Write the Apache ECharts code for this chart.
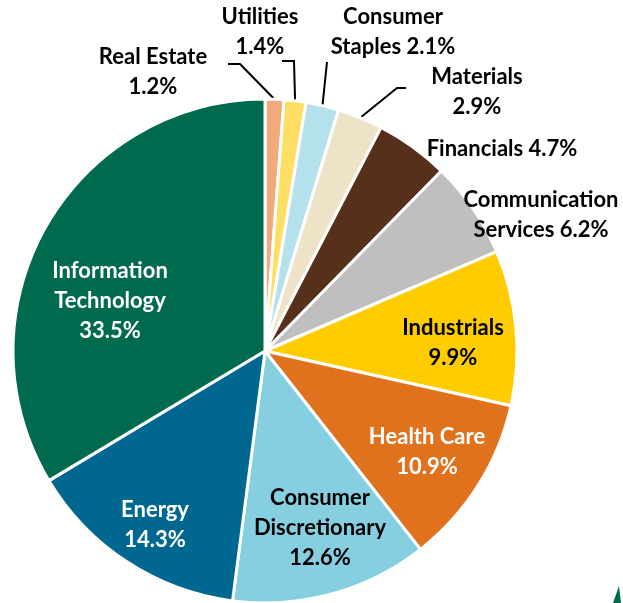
<!DOCTYPE html>
<html>
<head>
<meta charset="utf-8">
<script src="https://cdn.jsdelivr.net/npm/echarts@6/dist/echarts.min.js"></script>
<style>
html,body{margin:0;padding:0;background:#fff;}
#chart{width:623px;height:603px;}
</style>
</head>
<body>
<div id="chart"></div>
<script>
// Sectors, clockwise from 12 o'clock
const sectors = ['Real Estate','Utilities','Consumer Staples','Materials','Financials','Communication Services','Industrials','Health Care','Consumer Discretionary','Energy','Information Technology'];
const weights = [1.2, 1.4, 2.1, 2.9, 4.7, 6.2, 9.9, 10.9, 12.6, 14.3, 33.5];
const labelTexts = ['Real Estate\n1.2%','Utilities\n1.4%','Consumer\nStaples 2.1%','Materials\n2.9%','Financials 4.7%','Communication\nServices 6.2%','Industrials\n9.9%','Health Care\n10.9%','Consumer\nDiscretionary\n12.6%','Energy\n14.3%','Information\nTechnology\n33.5%'];
const colors = ['#F2A97B','#FFDF63','#B4E1EC','#EEE3C6','#56301A','#BFBFBF','#FFCC00','#E0721E','#86CFE1','#006890','#006A4E'];
const labelColors = ['#000','#000','#000','#000','#000','#000','#000','#fff','#000','#fff','#fff'];

// Label placement (text centres) and leader-line bends
const labelPos = [[153,72],[260,32],[393,32],[477,92],[502,149],[541,215],[453,343],[427,452],[320,528],[155,525],[110,301]];
const leaderBends = {
  0: [[228,64],[240,64]],
  1: [[282,61],[294,61]],
  2: [[327,62]],
  3: [[406,88],[397,88]]
};

const chart = echarts.init(document.getElementById('chart'), null, {renderer:'canvas'});
const data = weights.map((v,i)=>({
  name: sectors[i],
  value: v,
  itemStyle: {color: colors[i]},
  label: {color: labelColors[i], formatter: labelTexts[i]},
  labelLine: {show: !!leaderBends[i], lineStyle:{color:'#000', width:2}}
}));

chart.setOption({
  animation: false,
  backgroundColor: '#fff',
  series: [{
    type: 'pie',
    center: [265, 351],
    radius: 252,
    startAngle: 90,
    clockwise: true,
    avoidLabelOverlap: false,
    itemStyle: {borderColor:'#fff', borderWidth:3},
    label: {
      show: true,
      position: 'outside',
      fontFamily: 'Lato',
      fontWeight: 'bold',
      fontSize: 22,
      lineHeight: 30,
      align: 'center'
    },
    labelLine: {length: 10, length2: 10},
    labelLayout: function(params){
      const i = params.dataIndex;
      const p = labelPos[i];
      const out = {x: p[0], y: p[1], align: 'center', verticalAlign: 'middle'};
      if (leaderBends[i]) {
        let p0 = params.labelLinePoints ? params.labelLinePoints[0] : null;
        const bends = leaderBends[i].slice().reverse();
        if (p0) out.labelLinePoints = [p0].concat(bends);
      }
      return out;
    },
    data: data
  }],
  graphic: [{
    type: 'polygon',
    shape: {points: [[619,586],[613,603],[621,603]]},
    style: {fill: '#006A4E'}
  }]
});
</script>
</body>
</html>
